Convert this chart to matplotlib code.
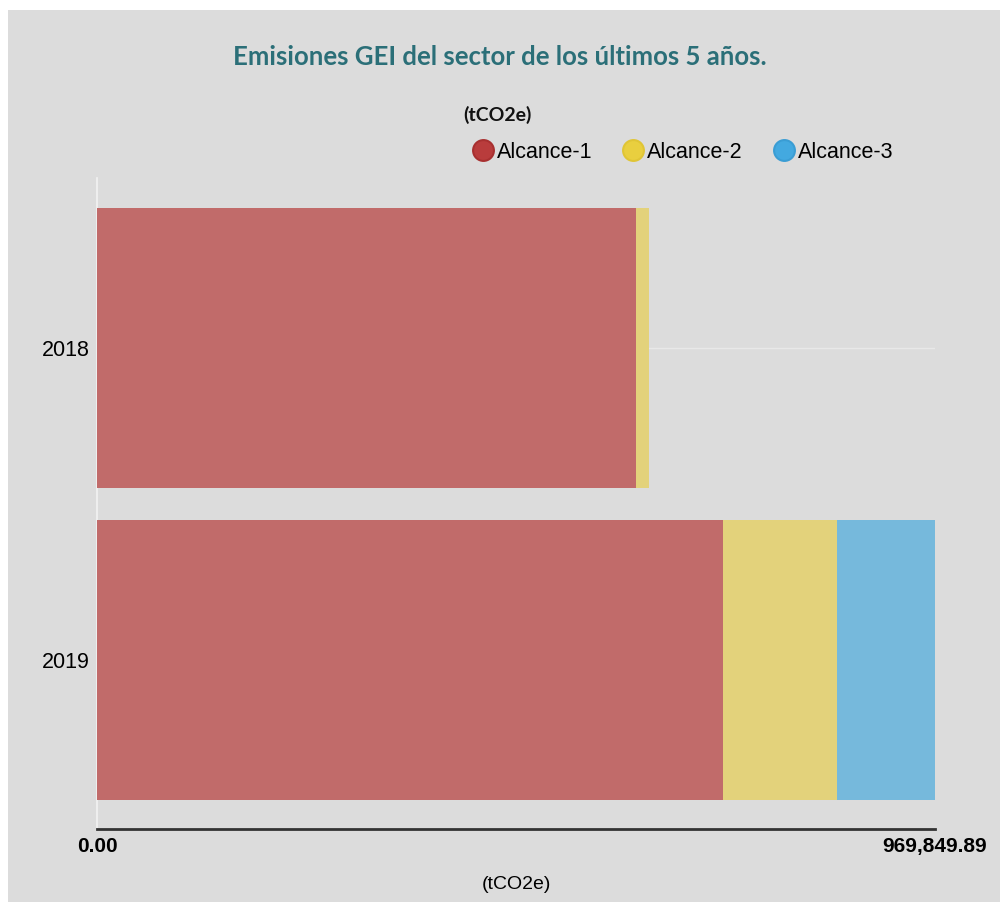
import matplotlib.pyplot as plt
from matplotlib.lines import Line2D
from matplotlib.patches import Rectangle

years = ["2018", "2019"]
alcance1 = [623800, 724480]
alcance2 = [15050, 131930]
alcance3 = [0, 113439.89]
series_names = ["Alcance-1", "Alcance-2", "Alcance-3"]
x_max = 969849.89
x_ticklabels = ["0.00", "969,849.89"]

bar_colors = ["#c16b6a", "#e3d27b", "#76b9dc"]
marker_colors = ["#b93c3c", "#e9cf3f", "#43a9e0"]
marker_edges = ["#a83030", "#e0c535", "#3a9dd4"]
bg = "#dcdcdc"

fig = plt.figure(figsize=(10, 9.05), dpi=100)
fig.patch.set_facecolor("white")
fig.patches.append(Rectangle((0.008, 0.003), 0.992, 0.986, transform=fig.transFigure,
                             facecolor=bg, edgecolor="none", zorder=-10))

ax = fig.add_axes([0.097, 0.084, 0.838, 0.7193])
ax.set_facecolor(bg)

left = [0, 0]
for vals, col in zip([alcance1, alcance2, alcance3], bar_colors):
    ax.barh(years, vals, left=left, height=0.9, color=col, zorder=3)
    left = [l + v for l, v in zip(left, vals)]

ax.set_xlim(0, x_max)
ax.set_ylim(1.542, -0.545)
ax.set_xticks([0, x_max])
ax.set_xticklabels(x_ticklabels, fontsize=15, fontweight="bold", family="Liberation Sans")
ax.tick_params(axis="x", length=0, pad=6)
ax.tick_params(axis="y", length=0, pad=5, labelsize=15.5)
for lab in ax.get_yticklabels():
    lab.set_family("Liberation Sans")
ax.grid(axis="y", color="#e8e8e8", linewidth=1, zorder=0)
ax.grid(axis="x", visible=False)

for s in ["top", "right"]:
    ax.spines[s].set_visible(False)
ax.spines["left"].set_color("#f2f2f2")
ax.spines["left"].set_linewidth(1.2)
ax.spines["bottom"].set_color("#333333")
ax.spines["bottom"].set_linewidth(2)

ax.set_xlabel("(tCO2e)", fontsize=14, family="Liberation Sans", labelpad=14)

fig.text(0.5, 1 - 57 / 905, "Emisiones GEI del sector de los últimos 5 años.",
         ha="center", va="center", fontsize=18.5, fontweight="bold", color="#2b6f78", family="Lato")
fig.text(0.497, 1 - 115 / 905, "(tCO2e)", ha="center", va="center",
         fontsize=14, fontweight="bold", color="#111111", family="Lato")

handles = [Line2D([], [], linestyle="none", marker="o", markersize=15,
                  markerfacecolor=c, markeredgecolor=e, markeredgewidth=1.5)
           for c, e in zip(marker_colors, marker_edges)]
leg = fig.legend(handles, series_names, loc="center left", bbox_to_anchor=(0.474, 1 - 152 / 905),
                 ncol=3, frameon=False, handlelength=0.8, handletextpad=0.25, columnspacing=1.5,
                 prop={"family": "Liberation Sans", "size": 15.5}, borderpad=0, borderaxespad=0)

fig.savefig("out.png", dpi=100, facecolor=fig.get_facecolor())
